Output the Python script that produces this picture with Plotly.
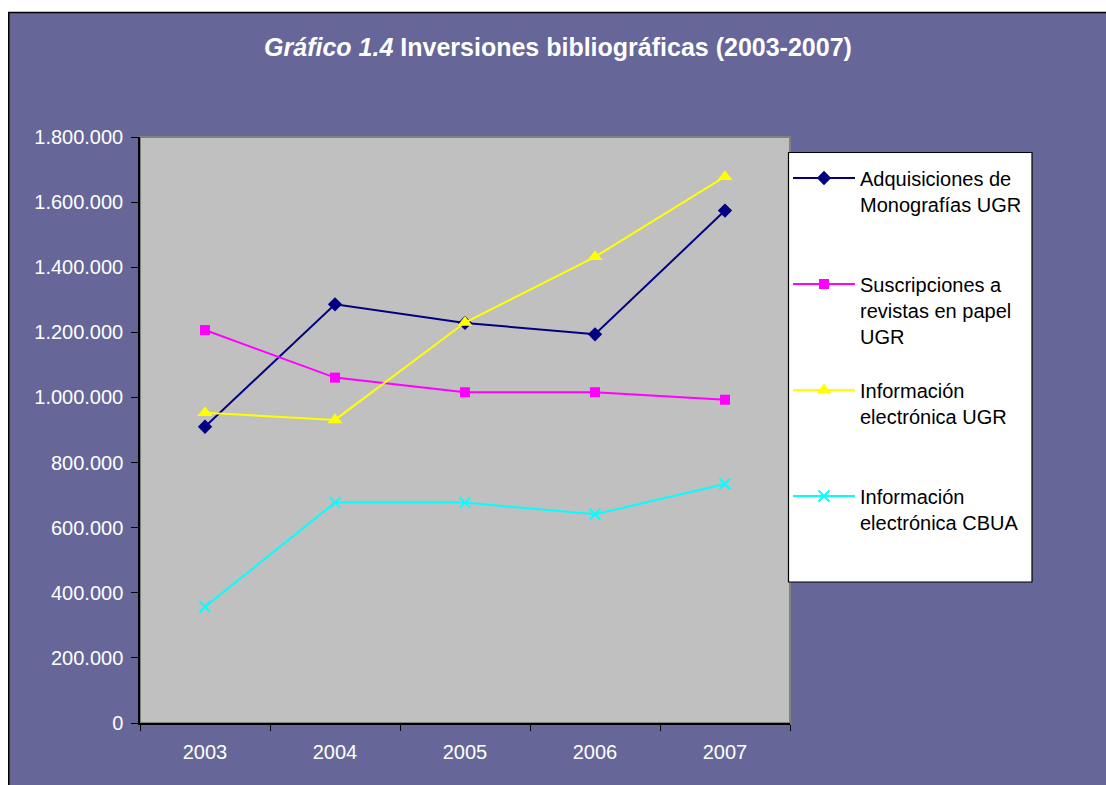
import plotly.graph_objects as go

years = ["2003", "2004", "2005", "2006", "2007"]
adquisiciones = [910000, 1286000, 1229000, 1194000, 1574000]
suscripciones = [1207000, 1061000, 1016000, 1016000, 993000]
info_ugr = [953000, 931000, 1230000, 1432000, 1678000]
info_cbua = [357000, 677000, 677000, 641000, 734000]

series_names = [
    "Adquisiciones de<br>Monografías UGR",
    "Suscripciones a<br>revistas en papel<br>UGR",
    "Información<br>electrónica UGR",
    "Información<br>electrónica CBUA",
]
y_ticks = [0, 200000, 400000, 600000, 800000, 1000000, 1200000, 1400000, 1600000, 1800000]

W, H = 1106, 785
L, R, T, B = 140, 790, 137, 723  # plot area in page pixels


def xf(px):
    return (px - L) / (R - L)


def yf(py):
    return (B - py) / (B - T)


FONT = "Liberation Sans, Arial, sans-serif"
PURPLE = "#666699"

fig = go.Figure()
specs = [
    (adquisiciones, "#000080", dict(symbol="diamond", size=11, color="#000080")),
    (suscripciones, "#FF00FF", dict(symbol="square", size=10, color="#FF00FF")),
    (info_ugr, "#FFFF00", dict(symbol="triangle-up", size=13, color="#FFFF00")),
    (info_cbua, "#00FFFF", dict(symbol="x-thin", size=11, color="#00FFFF",
                                line=dict(color="#00FFFF", width=2))),
]
for i, (vals, col, mk) in enumerate(specs):
    label = series_names[i]
    if label.count("<br>") < 2:
        label = label + "<br> "
    fig.add_trace(go.Scatter(
        x=years, y=vals, mode="lines+markers", name=label,
        legendgroup="g%d" % i,
        line=dict(color=col, width=2), marker=mk,
    ))

fig.update_layout(
    width=W, height=H,
    margin=dict(l=L, r=W - R, t=T, b=H - B),
    paper_bgcolor=PURPLE,
    plot_bgcolor="#C0C0C0",
    separators=",.",
    title=dict(
        text="<b><i>Gráfico 1.4</i> Inversiones bibliográficas (2003-2007)</b>",
        font=dict(family=FONT, size=25, color="white"),
        x=558 / W, xref="container", xanchor="center",
        y=1 - 47 / H, yref="container", yanchor="middle",
    ),
    font=dict(family=FONT, size=20, color="white"),
    showlegend=True,
    legend=dict(
        x=xf(788), y=yf(152), xanchor="left", yanchor="top",
        bgcolor="rgba(0,0,0,0)", borderwidth=0,
        font=dict(family=FONT, size=20, color="black"),
        traceorder="grouped", tracegroupgap=25, valign="top",
        itemwidth=62,
        title=dict(text=" ", font=dict(size=5)),
    ),
    xaxis=dict(
        type="category", range=[-0.5, 4.5],
        showline=True, linecolor="black", linewidth=1.5,
        ticks="outside", tickson="boundaries", ticklen=6, tickcolor="black",
        showgrid=False, zeroline=False,
        tickfont=dict(family=FONT, size=20, color="white"),
        ticklabelstandoff=10,
    ),
    yaxis=dict(
        range=[0, 1800000], tickvals=y_ticks, tickformat=",d",
        showline=True, linecolor="black", linewidth=1.5,
        ticks="outside", ticklen=7, tickcolor="black",
        showgrid=False, zeroline=False,
        tickfont=dict(family=FONT, size=20, color="white"),
        ticklabelstandoff=4,
    ),
    shapes=[
        dict(type="rect", xref="paper", yref="paper", x0=0, x1=1, y0=0, y1=1,
             line=dict(color="#808080", width=2), fillcolor="rgba(0,0,0,0)", layer="below"),
        # legend box
        dict(type="rect", xref="paper", yref="paper", x0=xf(788.5), x1=xf(1032), y0=yf(582), y1=yf(152.5),
             line=dict(color="black", width=1.2), fillcolor="white", layer="above"),
        # outer frame
        dict(type="rect", xref="paper", yref="paper", x0=xf(-20), x1=xf(8), y0=yf(H + 20), y1=yf(-20),
             line=dict(width=0), fillcolor="white", layer="above"),
        dict(type="rect", xref="paper", yref="paper", x0=xf(-20), x1=xf(W + 20), y0=yf(12), y1=yf(-20),
             line=dict(width=0), fillcolor="white", layer="above"),
        dict(type="line", xref="paper", yref="paper", x0=xf(8.75), x1=xf(8.75), y0=yf(12), y1=yf(H + 20),
             line=dict(color="black", width=1.5), layer="above"),
        dict(type="line", xref="paper", yref="paper", x0=xf(8), x1=xf(W + 20), y0=yf(12.5), y1=yf(12.5),
             line=dict(color="black", width=1.5), layer="above"),
    ],
)

fig.write_html(
    "out.html",
    config={"displayModeBar": False},
    post_script="document.body.style.margin='0';document.body.style.overflow='hidden';",
)
